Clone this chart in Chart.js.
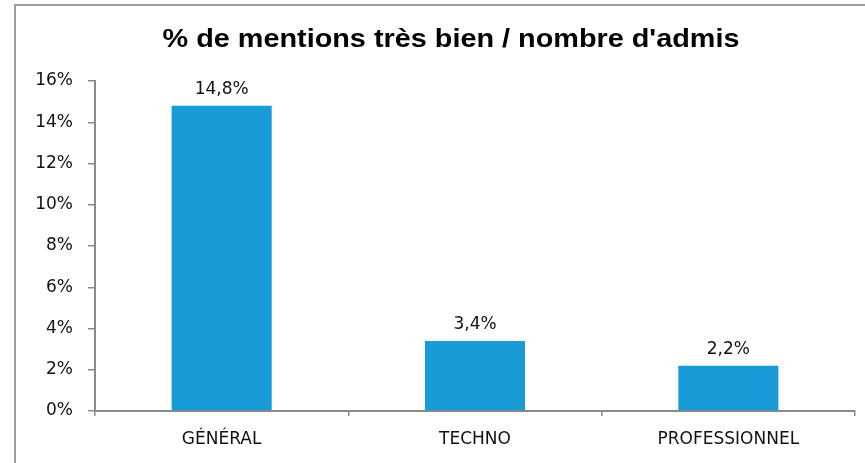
<!DOCTYPE html>
<html>
<head>
<meta charset="utf-8">
<script src="https://cdn.jsdelivr.net/npm/chart.js@4"></script>
<style>
  html, body { margin: 0; padding: 0; background: #fff; overflow: hidden; }
  #frame { position: absolute; left: 14px; top: 4px; width: 900px; height: 500px; border: 2px solid #9c9c9c; }
  #wrap { position: absolute; left: 0; top: 0; width: 865px; height: 463px; }
</style>
</head>
<body>
<div id="frame"></div>
<div id="wrap"><canvas id="myChart"></canvas></div>
<script>
let categories = ["GÉNÉRAL", "TECHNO", "PROFESSIONNEL"];
let values = [14.8, 3.4, 2.2];
let chartTitle = "% de mentions très bien / nombre d'admis";

let axisGray = '#8a8a8a';
let labelFont = {family: 'DejaVu Sans', size: 17};

// value labels on top of bars, french decimal comma
let barLabels = {
  id: 'barLabels',
  afterDatasetsDraw(chart) {
    let ctx = chart.ctx;
    ctx.save();
    ctx.font = '17px "DejaVu Sans"';
    ctx.fillStyle = '#111';
    ctx.textAlign = 'center';
    ctx.textBaseline = 'bottom';
    chart.getDatasetMeta(0).data.forEach((bar, i) => {
      ctx.fillText(values[i].toFixed(1).replace('.', ',') + '%', bar.x, bar.y - 8);
    });
    ctx.restore();
  }
};

// title drawn by hand (a bit wide, like the original), built-in one only keeps the space
let titleDraw = {
  id: 'titleDraw',
  afterDraw(chart) {
    let ctx = chart.ctx;
    ctx.save();
    ctx.font = 'bold 25px "Liberation Sans"';
    ctx.fillStyle = '#000';
    ctx.textAlign = 'center';
    ctx.textBaseline = 'middle';
    let w = ctx.measureText(chartTitle).width;
    let sx = 577 / w;
    ctx.translate(451, 40);
    ctx.scale(sx, 1);
    ctx.fillText(chartTitle, 0, 0);
    ctx.restore();
  }
};

let chart = new Chart(document.getElementById('myChart'), {
  type: 'bar',
  data: {
    labels: categories,
    datasets: [{
      data: values,
      backgroundColor: '#189bd7',
      categoryPercentage: 1,
      barPercentage: 0.395
    }]
  },
  options: {
    responsive: true,
    maintainAspectRatio: false,
    animation: false,
    layout: {padding: {left: 0, right: 10, top: 0, bottom: 0}},
    plugins: {
      legend: {display: false},
      tooltip: {enabled: false},
      title: {
        display: true,
        text: chartTitle,
        color: 'rgba(0,0,0,0)',
        font: {family: 'Liberation Sans', size: 25, weight: 'bold'},
        padding: {top: 25, bottom: 26}
      }
    },
    scales: {
      x: {
        afterFit: s => { s.height = 52; },
        grid: {display: true, drawOnChartArea: false, drawTicks: true, tickLength: 5, color: axisGray, lineWidth: 1.5, offset: true},
        border: {display: true, color: axisGray, width: 2},
        ticks: {color: '#111', font: labelFont, padding: 13}
      },
      y: {
        min: 0,
        max: 16,
        afterFit: s => { s.width = 95; },
        grid: {display: true, drawOnChartArea: false, drawTicks: true, tickLength: 7, color: axisGray, lineWidth: 1.5},
        border: {display: true, color: axisGray, width: 2},
        ticks: {stepSize: 2, color: '#111', font: labelFont, padding: 15, callback: v => v + '%'}
      }
    }
  },
  plugins: [barLabels, titleDraw]
});
</script>
</body>
</html>
